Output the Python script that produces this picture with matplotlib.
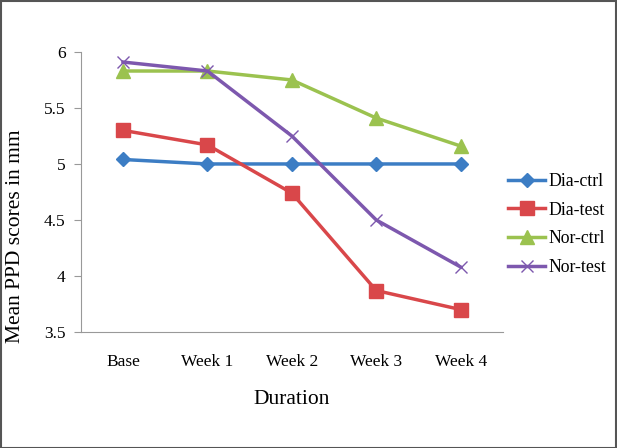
import matplotlib.pyplot as plt
from matplotlib.patches import Rectangle

plt.rcParams['font.family'] = ['Liberation Serif', 'DejaVu Serif']

durations = ['Base', 'Week 1', 'Week 2', 'Week 3', 'Week 4']
dia_ctrl = [5.04, 5.0, 5.0, 5.0, 5.0]
dia_test = [5.30, 5.17, 4.74, 3.87, 3.70]
nor_ctrl = [5.83, 5.83, 5.75, 5.41, 5.16]
nor_test = [5.91, 5.83, 5.25, 4.50, 4.08]

fig = plt.figure(figsize=(6.17, 4.48), dpi=100)
ax = fig.add_axes([0.131, 0.259, 0.684, 0.625])

x = range(len(durations))
ax.plot(x, dia_ctrl, color='#3C7DC4', lw=2.5, marker='D', ms=7, label='Dia-ctrl')
ax.plot(x, dia_test, color='#D9474A', lw=2.5, marker='s', ms=10, label='Dia-test')
ax.plot(x, nor_ctrl, color='#9BC24F', lw=2.5, marker='^', ms=10, label='Nor-ctrl')
ax.plot(x, nor_test, color='#7D58AE', lw=2.5, marker='x', ms=9, mew=1, label='Nor-test')

ax.set_xlim(-0.5, 4.5)
ax.set_ylim(3.5, 6)
ax.set_xticks(list(x))
ax.set_xticklabels(durations)
ax.set_yticks([3.5, 4, 4.5, 5, 5.5, 6])
ax.set_yticklabels(['3.5', '4', '4.5', '5', '5.5', '6'])
ax.tick_params(axis='x', length=0, pad=16, labelsize=12.5)
ax.tick_params(axis='y', length=5, color='#999999', labelsize=12.5, pad=6)
for s in ['top', 'right']:
    ax.spines[s].set_visible(False)
for s in ['left', 'bottom']:
    ax.spines[s].set_color('#999999')

ax.set_xlabel('Duration', fontsize=15.5, labelpad=14)
ax.set_ylabel('Mean PPD scores in mm', fontsize=15.5)
ax.yaxis.set_label_coords(-0.133, 0.343)

fig.legend(loc='center left', bbox_to_anchor=(508 / 617, 0.499), frameon=False,
           fontsize=12.8, handlelength=2.1, handletextpad=0.15, labelspacing=0.65,
           borderpad=0, borderaxespad=0)

fig.add_artist(Rectangle((0.001, 0.001), 0.997, 0.996, transform=fig.transFigure,
                         fill=False, edgecolor='#555555', lw=1.5))

fig.savefig('out.png', dpi=100)
